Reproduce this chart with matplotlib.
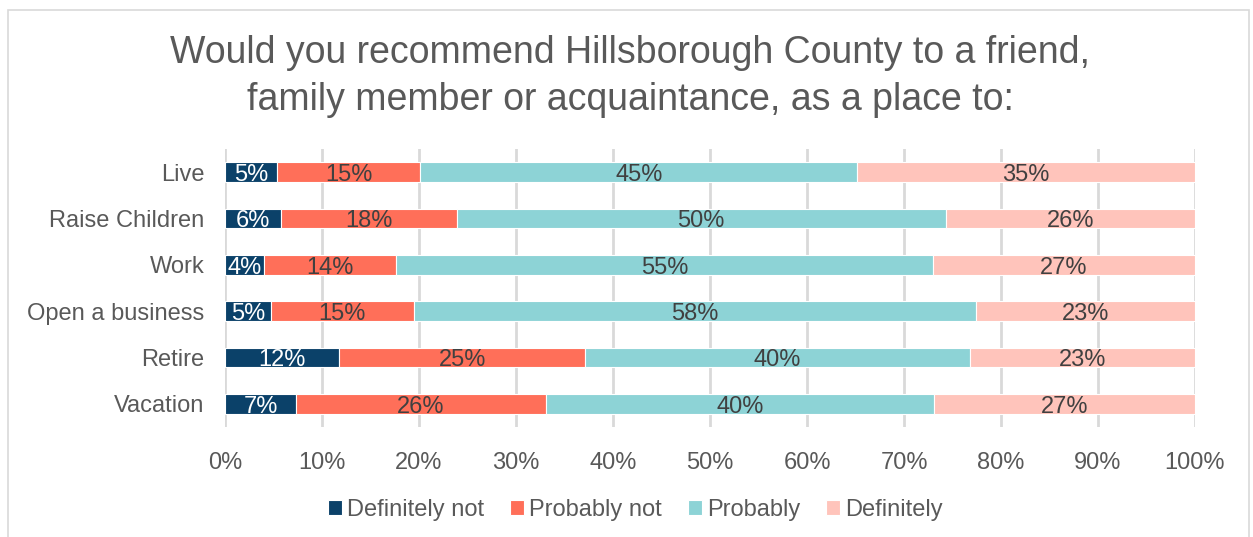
import numpy as np
from matplotlib import pyplot as plt
from matplotlib.patches import Rectangle

plt.rcParams.update({"font.family": ["Liberation Sans", "DejaVu Sans"],
                     "text.color": "#595959",
                     "xtick.color": "#595959",
                     "ytick.color": "#595959"})

categories = ['Live', 'Raise Children', 'Work', 'Open a business', 'Retire', 'Vacation']
series_names = ['Definitely not', 'Probably not', 'Probably', 'Definitely']
definitely_not = [5.4, 5.8, 4.0, 4.7, 11.8, 7.3]
probably_not = [14.7, 18.1, 13.6, 14.8, 25.3, 25.8]
probably = [45.1, 50.4, 55.4, 57.9, 39.7, 40.0]
definitely = [34.8, 25.7, 27.0, 22.6, 23.2, 26.9]
xticks = [0, 10, 20, 30, 40, 50, 60, 70, 80, 90, 100]

colors = ['#0B4169', '#FF6F59', '#8DD3D6', '#FFC4BB']
text_colors = ['white', '#404040', '#404040', '#404040']

fig = plt.figure(figsize=(12.53, 5.37), dpi=100)
ax = fig.add_axes([0.1796, 0.2048, 0.7741, 0.5177])

y = np.arange(len(categories))
left = np.zeros(len(categories))
for name, vals, c, tc in zip(series_names,
                             [definitely_not, probably_not, probably, definitely],
                             colors, text_colors):
    vals = np.array(vals)
    ax.barh(y, vals, left=left, height=0.42, color=c, edgecolor='white',
            linewidth=0.8, label=name, zorder=3)
    for yi, l, v in zip(y, left, vals):
        ax.text(l + v / 2, yi + 0.06, f'{v:.0f}%', ha='center', va='center',
                fontsize=17, color=tc, zorder=4)
    left += vals

ax.set_xlim(0, 100)
ax.set_ylim(len(categories) - 0.5, -0.5)
ax.set_yticks(y)
ax.set_yticklabels(categories, fontsize=17)
ax.set_xticks(xticks)
ax.set_xticklabels([f'{t}%' for t in xticks], fontsize=17)
ax.tick_params(axis='both', length=0)
ax.tick_params(axis='x', pad=18)
ax.tick_params(axis='y', pad=15)
ax.grid(axis='x', color='#D9D9D9', linewidth=2, zorder=0)
for s in ax.spines.values():
    s.set_visible(False)

fig.text(0.503, 0.857, 'Would you recommend Hillsborough County to a friend,\nfamily member or acquaintance, as a place to:',
         ha='center', va='center', fontsize=27, color='#595959', linespacing=1.4)

fig.legend(loc='center', bbox_to_anchor=(0.507, 0.05), ncol=4, frameon=False,
           fontsize=17, handlelength=0.6, handleheight=0.6, handletextpad=0.2,
           columnspacing=1.1)

fig.patches.append(Rectangle((8 / 1253, -0.01), 1 - 12 / 1253, 1 - 10 / 537 + 0.01,
                             transform=fig.transFigure, fill=False,
                             edgecolor='#D9D9D9', linewidth=1.2))

fig.savefig('out.png', dpi=100)
